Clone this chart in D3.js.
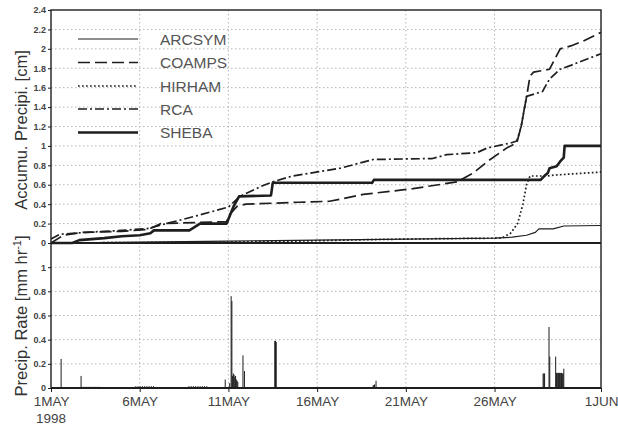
<!DOCTYPE html>
<html>
<head>
<meta charset="utf-8">
<script src="https://cdn.jsdelivr.net/npm/d3@7"></script>
<style>
  body { margin: 0; background: #fff; }
  svg text { font-family: "Liberation Sans", Arial, sans-serif; }
</style>
</head>
<body>
<svg id="chart" width="618" height="428"></svg>
<script>
// ---- data -------------------------------------------------------------
// time is in days since 1 May 1998 00 UTC
const dayTicks = [0, 5, 10, 15, 20, 25, 31];
const dayTickLabels = ["1MAY", "6MAY", "11MAY", "16MAY", "21MAY", "26MAY", "1JUN"];
const yearLabel = "1998";

const accumTicks = [0, 0.2, 0.4, 0.6, 0.8, 1, 1.2, 1.4, 1.6, 1.8, 2, 2.2, 2.4];
const rateTicks = [0, 0.2, 0.4, 0.6, 0.8, 1];

const seriesNames = ["ARCSYM", "COAMPS", "HIRHAM", "RCA", "SHEBA"];

// accumulated precipitation [cm] as [day, value]
const ARCSYM = [[0, 0], [5, 0.01], [10, 0.02], [15, 0.03], [20, 0.04], [25, 0.05],
  [26, 0.06], [26.8, 0.08], [27.3, 0.11], [27.5, 0.145], [28.3, 0.145],
  [28.9, 0.175], [31, 0.18]];

const COAMPS = [[0, 0], [0.7, 0.08], [1.8, 0.11], [4, 0.12], [5.5, 0.14], [6.2, 0.2],
  [9.9, 0.22], [10.1, 0.3], [10.5, 0.38], [11, 0.4], [14, 0.42], [15.7, 0.43],
  [17.6, 0.5], [20.4, 0.56], [22.9, 0.63], [23.8, 0.72], [24.6, 0.84],
  [25.7, 0.98], [26.25, 1.03], [26.5, 1.2], [26.8, 1.5], [27, 1.72], [27.2, 1.76],
  [28.1, 1.79], [28.7, 2.0], [29.3, 2.03], [30, 2.08], [31, 2.17]];

const HIRHAM = [[0, 0], [5, 0.005], [10, 0.01], [14, 0.02], [18, 0.035], [22, 0.045],
  [25.4, 0.05], [25.9, 0.1], [26.3, 0.2], [26.6, 0.4], [26.8, 0.6], [27, 0.69],
  [27.9, 0.69], [28.4, 0.7], [31, 0.73]];

const RCA = [[0, 0.04], [0.5, 0.09], [2, 0.11], [4, 0.13], [5.5, 0.15], [6.5, 0.2],
  [8, 0.27], [10, 0.37], [10.65, 0.48], [11.8, 0.58], [12.5, 0.63], [13.6, 0.69],
  [16.3, 0.77], [18.15, 0.86], [21.5, 0.87], [22.3, 0.91], [24, 0.93],
  [24.6, 0.98], [25.9, 1.03], [26.25, 1.05], [26.5, 1.2], [26.8, 1.51],
  [27.7, 1.56], [28.1, 1.69], [28.7, 1.79], [29.3, 1.83], [30, 1.88], [31, 1.95]];

const SHEBA = [[0, 0], [1.2, 0], [1.6, 0.03], [3, 0.05], [4, 0.07], [5, 0.08],
  [5.6, 0.1], [5.8, 0.13], [7.8, 0.13], [8.4, 0.2], [9.9, 0.2], [10.1, 0.29],
  [10.3, 0.38], [10.6, 0.48], [12.4, 0.49], [12.5, 0.62], [18.1, 0.62],
  [18.2, 0.65], [27.6, 0.65], [27.8, 0.69], [28.0, 0.72], [28.1, 0.77],
  [28.5, 0.79], [28.7, 0.84], [28.9, 0.88], [28.95, 1.0], [31, 1.0]];

// observed hourly precipitation rate [mm/hr]: hour since 1 May 00 UTC, value
const rateHour = [13, 40,
  41, 44, 47, 50, 53, 56, 59, 62, 65,
  92, 96, 100, 104, 108, 112, 114, 117, 120, 123, 126, 129, 132, 135, 138,
  186, 189, 192, 195, 198, 201, 204, 207, 210,
  235, 241, 243, 244, 245, 246, 247, 248, 249, 250, 251, 252, 259, 261,
  302, 303, 304,
  313, 317, 321, 325, 329, 332,
  435, 436, 437, 439,
  665, 666, 667, 673, 674, 682, 683, 684, 685, 686, 687, 688, 689, 690, 691, 692, 693];
const rateValue = [0.24, 0.10,
  0.01, 0.01, 0.01, 0.01, 0.01, 0.01, 0.01, 0.01, 0.01,
  0.008, 0.008, 0.008, 0.008, 0.008, 0.008, 0.015, 0.015, 0.015, 0.015, 0.015, 0.015, 0.015, 0.015, 0.015,
  0.015, 0.015, 0.015, 0.015, 0.015, 0.015, 0.015, 0.015, 0.015,
  0.07, 0.04, 0.76, 0.72, 0.10, 0.12, 0.11, 0.09, 0.10, 0.07, 0.06, 0.05, 0.27, 0.14,
  0.39, 0.39, 0.38,
  0.006, 0.006, 0.006, 0.006, 0.006, 0.006,
  0.02, 0.025, 0.03, 0.06,
  0.12, 0.12, 0.12, 0.505, 0.26, 0.26, 0.125, 0.125, 0.125, 0.125, 0.125, 0.125, 0.125, 0.125, 0.12, 0.12, 0.16, 1.01];

// ---- layout -----------------------------------------------------------
const svg = d3.select("#chart");
const left = 51, right = 601;
const topA = 10, split = 243, bottomR = 388;

const x = d3.scaleLinear().domain([0, 31]).range([left, right]);
const yA = d3.scaleLinear().domain([0, 2.4]).range([split, topA]);
const yR = d3.scaleLinear().domain([0, 1.2]).range([bottomR, split]);

const ink = "#1e1e1e";
const textFill = "#444";
const gridStyle = g => g.attr("stroke", "#b4b4b4").attr("stroke-width", 1).attr("stroke-dasharray", "1.5,2.5");

// ---- gridlines --------------------------------------------------------
const grid = svg.append("g");
grid.selectAll("line.hA").data(accumTicks.filter(v => v > 0 && v < 2.4)).join("line")
  .attr("x1", left).attr("x2", right).attr("y1", d => yA(d)).attr("y2", d => yA(d)).call(gridStyle);
grid.selectAll("line.hR").data(rateTicks.filter(v => v > 0)).join("line")
  .attr("x1", left).attr("x2", right).attr("y1", d => yR(d)).attr("y2", d => yR(d)).call(gridStyle);
grid.selectAll("line.v").data(dayTicks.filter(d => d > 0 && d < 31)).join("line")
  .attr("x1", d => x(d)).attr("x2", d => x(d)).attr("y1", topA).attr("y2", bottomR).call(gridStyle);

// ---- accumulated precipitation lines ---------------------------------
const styles = {
  ARCSYM: { w: 1.2, dash: null },
  COAMPS: { w: 1.7, dash: "12,5" },
  HIRHAM: { w: 1.7, dash: "1.7,2.3" },
  RCA:    { w: 1.7, dash: "9,3,2,3" },
  SHEBA:  { w: 2.6, dash: null }
};
const seriesData = { ARCSYM, COAMPS, HIRHAM, RCA, SHEBA };

const line = d3.line().x(d => x(d[0])).y(d => yA(d[1]));
const linesG = svg.append("g");
seriesNames.forEach(name => {
  linesG.append("path")
    .datum(seriesData[name])
    .attr("d", line)
    .attr("fill", "none")
    .attr("stroke", ink)
    .attr("stroke-width", styles[name].w)
    .attr("stroke-dasharray", styles[name].dash)
    .attr("stroke-linejoin", "round");
});

// ---- legend -----------------------------------------------------------
const legY = [39, 62.5, 86, 109, 132.5];
const legend = svg.append("g");
seriesNames.forEach((name, i) => {
  legend.append("line")
    .attr("x1", 78).attr("x2", 138).attr("y1", legY[i]).attr("y2", legY[i])
    .attr("stroke", ink)
    .attr("stroke-width", styles[name].w)
    .attr("stroke-dasharray", styles[name].dash);
  legend.append("text")
    .attr("x", 160).attr("y", legY[i] + 5.5)
    .attr("font-size", 15.5)
    .attr("fill", "#555")
    .text(name);
});

// ---- precipitation rate bars -----------------------------------------
const bars = svg.append("g");
bars.selectAll("rect").data(rateHour.map((h, i) => [h, rateValue[i]])).join("rect")
  .attr("x", d => x(d[0] / 24))
  .attr("width", d => Math.max(1, x((d[0] + 1) / 24) - x(d[0] / 24)))
  .attr("y", d => yR(d[1]))
  .attr("height", d => yR(0) - yR(d[1]))
  .attr("fill", ink);

// ---- axes -------------------------------------------------------------
const tickFont = g => {
  g.select(".domain").remove();
  g.selectAll(".tick line").attr("stroke", ink).attr("stroke-width", 1);
  g.selectAll(".tick text").attr("fill", textFill).attr("font-size", 9)
    .attr("font-family", "'Liberation Sans Narrow', 'DejaVu Sans Condensed', 'Liberation Sans', sans-serif")
    .attr("font-weight", "bold");
};
svg.append("g").attr("transform", `translate(${left},0)`)
  .call(d3.axisLeft(yA).tickValues(accumTicks).tickSize(3).tickPadding(2).tickFormat(d3.format("~g")))
  .call(tickFont);
svg.append("g").attr("transform", `translate(${left},0)`)
  .call(d3.axisLeft(yR).tickValues(rateTicks).tickSize(3).tickPadding(2).tickFormat(d3.format("~g")))
  .call(tickFont);

const xAxis = svg.append("g").attr("transform", `translate(0,${bottomR})`)
  .call(d3.axisBottom(x).tickValues(dayTicks).tickSize(4).tickPadding(4)
    .tickFormat((d, i) => dayTickLabels[i]));
xAxis.select(".domain").remove();
xAxis.selectAll(".tick line").attr("stroke", ink);
xAxis.selectAll(".tick text").attr("fill", textFill).attr("font-size", 13.5);
svg.append("text").attr("x", x(0)).attr("y", 423).attr("text-anchor", "middle")
  .attr("font-size", 13.5).attr("fill", textFill).text(yearLabel);

// ---- frames -----------------------------------------------------------
svg.append("rect").attr("x", left).attr("y", topA).attr("width", right - left).attr("height", bottomR - topA)
  .attr("fill", "none").attr("stroke", ink).attr("stroke-width", 1.4);
svg.append("line").attr("x1", left).attr("x2", right).attr("y1", split).attr("y2", split)
  .attr("stroke", ink).attr("stroke-width", 2);
svg.append("line").attr("x1", left).attr("x2", right).attr("y1", bottomR).attr("y2", bottomR)
  .attr("stroke", ink).attr("stroke-width", 2);

// ---- axis titles ------------------------------------------------------
svg.append("text").attr("transform", `translate(27,130) rotate(-90)`)
  .attr("text-anchor", "middle").attr("font-size", 16.5).attr("fill", "#333")
  .text("Accumu.  Precipi.  [cm]");
const rateTitle = svg.append("text").attr("transform", `translate(27,316) rotate(-90)`)
  .attr("text-anchor", "middle").attr("font-size", 16.5).attr("fill", "#333");
rateTitle.append("tspan").text("Precip.  Rate  [mm  hr");
rateTitle.append("tspan").attr("dy", -6).attr("font-size", 11).text("-1");
rateTitle.append("tspan").attr("dy", 6).text("]");
</script>
</body>
</html>
